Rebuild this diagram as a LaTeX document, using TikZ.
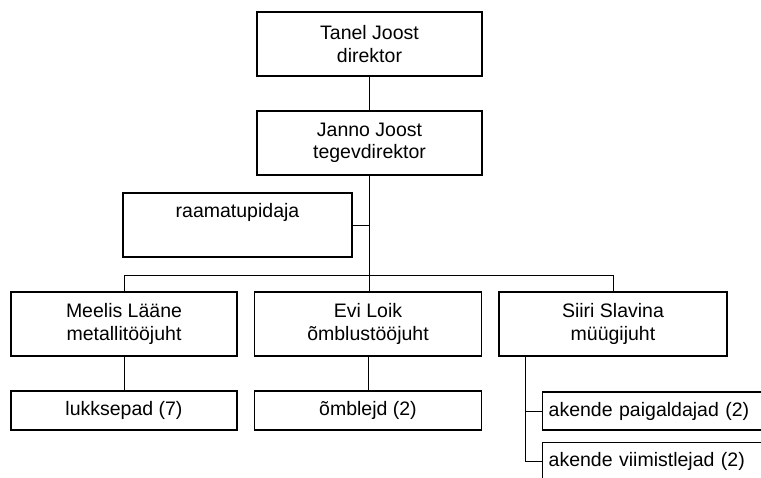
\documentclass[tikz,border=0pt]{standalone}
\usepackage{fontspec}
\setmainfont{Liberation Sans}
\begin{document}
\begin{tikzpicture}[x=1pt,y=-1pt,
  box/.style={draw, line width=1.4pt, inner sep=0pt, align=center,
    font=\fontsize{19.5}{22.5}\selectfont},
  bigbox/.style={box, minimum height=64pt},
  smallbox/.style={box, minimum height=39pt},
  leftbox/.style={draw, line width=1.4pt, inner sep=0pt, minimum height=38pt,
    text width=260pt, align=left, font=\fontsize{19.5}{22.5}\selectfont},
  conn/.style={line width=1pt}]
\useasboundingbox (0,0) rectangle (761,477);
\fill[white] (0,0) rectangle (761,477);
\clip (0,0) rectangle (761,477);
\node[bigbox, minimum width=225pt] (tanel) at (369.5,44) {Tanel Joost\\direktor};
\node[bigbox, minimum width=225pt] (janno) at (369.5,143) {Janno Joost\\tegevdirektor};
\node[bigbox, minimum width=229pt] (raam) at (237.5,225) {raamatupidaja\\\strut};
\node[bigbox, minimum width=226pt] (meelis) at (124,324) {Meelis Lääne\\metallitööjuht};
\node[bigbox, minimum width=227pt] (evi) at (368,324) {Evi Loik\\õmblustööjuht};
\node[bigbox, minimum width=228pt] (siiri) at (613,324) {Siiri Slavina\\müügijuht};
\node[smallbox, minimum width=226pt] (luk) at (124,410.5) {lukksepad (7)};
\node[smallbox, minimum width=227pt] (omb) at (368,410.5) {õmblejd (2)};
\node[leftbox, anchor=west] (paig) at (542,411) {\hspace*{6pt}akende paigaldajad (2)};
\node[leftbox, anchor=west] (viim) at (542,461.5) {\hspace*{6pt}akende viimistlejad (2)};
\coordinate (bus) at (0,275);
\coordinate (trunk) at (525,0);
\draw[conn] (tanel.south) -- (janno.north);
\draw[conn] (janno.south) -- (janno.south |- evi.north);
\draw[conn] (raam.east) -- (raam.east -| janno.south);
\draw[conn] (meelis.north) -- (meelis.north |- bus) -- (siiri.north |- bus) -- (siiri.north);
\draw[conn] (meelis.south) -- (luk.north);
\draw[conn] (evi.south) -- (omb.north);
\draw[conn] (trunk |- siiri.south) |- (paig.west);
\draw[conn] (trunk |- siiri.south) |- (viim.west);
\end{tikzpicture}
\end{document}
